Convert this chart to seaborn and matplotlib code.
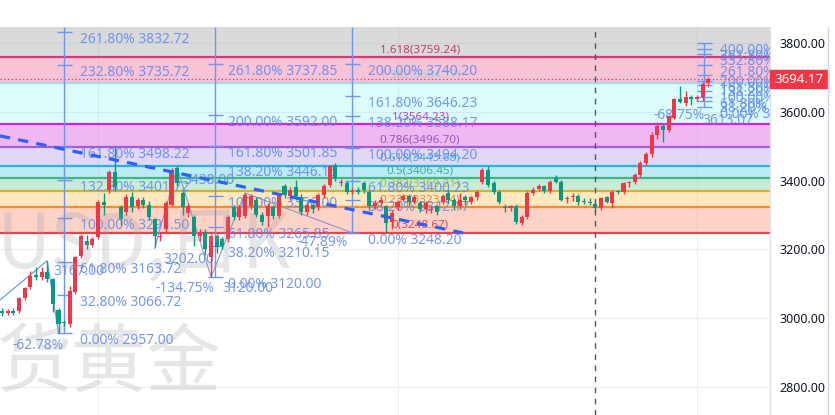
import numpy as np
import pandas as pd
import seaborn as sns
import matplotlib
matplotlib.use("Agg")
import matplotlib.pyplot as plt
from matplotlib.transforms import blended_transform_factory
from matplotlib.patches import Rectangle

sns.set_theme(style="white")
plt.rcParams['font.family'] = ['Noto Sans', 'Noto Sans CJK SC', 'DejaVu Sans']

# ---------------- data ----------------
opens = [3022, 3014, 3020, 3020, 3058, 3090, 3127, 3119, 3133, 3113,
         3023, 2988, 2982, 3075, 3180, 3225, 3214, 3235, 3339, 3374,
         3426, 3322, 3310, 3351, 3325, 3345, 3330, 3287, 3235, 3258,
         3330, 3438, 3365, 3307, 3293, 3238, 3252, 3177, 3238, 3229,
         3229, 3322, 3293, 3296, 3325, 3345, 3301, 3296, 3322, 3296,
         3383, 3354, 3380, 3351, 3310, 3330, 3322, 3359, 3388, 3446,
         3392, 3394, 3367, 3374, 3394, 3368, 3325, 3336, 3325, 3281,
         3322, 3345, 3354, 3339, 3336, 3316, 3314, 3325, 3339, 3365,
         3345, 3325, 3351, 3339, 3351, 3397, 3432, 3394, 3368, 3324,
         3319, 3327, 3278, 3293, 3365, 3377, 3383, 3371, 3409, 3397,
         3346, 3352, 3354, 3340, 3338, 3333, 3319, 3351, 3336, 3370,
         3368, 3393, 3397, 3417, 3452, 3478, 3533, 3559, 3548, 3583,
         3638, 3626, 3643, 3638, 3643, 3684]
highs = [3030, 3028, 3030, 3062, 3092, 3136, 3150, 3150, 3167, 3118,
         3030, 2995, 3093, 3180, 3245, 3243, 3235, 3345, 3365, 3432,
         3501, 3330, 3360, 3368, 3350, 3352, 3340, 3290, 3250, 3340,
         3438, 3441, 3370, 3335, 3300, 3258, 3258, 3245, 3245, 3235,
         3300, 3330, 3330, 3365, 3360, 3352, 3310, 3335, 3330, 3360,
         3390, 3380, 3403, 3360, 3338, 3336, 3365, 3390, 3446, 3452,
         3405, 3400, 3378, 3380, 3400, 3372, 3345, 3352, 3330, 3315,
         3345, 3360, 3360, 3358, 3342, 3342, 3325, 3330, 3360, 3372,
         3350, 3365, 3358, 3356, 3372, 3436, 3441, 3398, 3372, 3332,
         3330, 3332, 3300, 3370, 3380, 3390, 3388, 3402, 3415, 3402,
         3356, 3365, 3360, 3348, 3350, 3336, 3352, 3356, 3372, 3373,
         3396, 3400, 3422, 3456, 3482, 3540, 3570, 3565, 3592, 3641,
         3675, 3660, 3650, 3650, 3686, 3700]
lows = [3005, 3008, 3010, 3015, 3052, 3085, 3110, 3112, 3105, 3017,
        2957, 2978, 2975, 3070, 3175, 3200, 3208, 3229, 3301, 3365,
        3370, 3270, 3300, 3310, 3318, 3320, 3285, 3206, 3225, 3250,
        3325, 3385, 3300, 3295, 3209, 3225, 3185, 3120, 3190, 3200,
        3222, 3285, 3285, 3290, 3318, 3295, 3270, 3264, 3288, 3290,
        3350, 3345, 3345, 3300, 3300, 3305, 3315, 3350, 3380, 3400,
        3385, 3360, 3360, 3360, 3365, 3318, 3318, 3330, 3250, 3258,
        3315, 3340, 3330, 3332, 3308, 3305, 3305, 3300, 3332, 3335,
        3315, 3318, 3330, 3332, 3345, 3390, 3380, 3360, 3332, 3310,
        3312, 3275, 3272, 3288, 3358, 3370, 3365, 3365, 3392, 3340,
        3336, 3340, 3330, 3332, 3328, 3312, 3314, 3336, 3320, 3360,
        3360, 3380, 3390, 3410, 3445, 3470, 3522, 3513, 3540, 3580,
        3625, 3618, 3620, 3632, 3630, 3672]
closes = [3014, 3020, 3015, 3058, 3087, 3122, 3119, 3133, 3113, 3040,
          2982, 2986, 3078, 3177, 3238, 3212, 3229, 3339, 3330, 3426,
          3380, 3287, 3351, 3322, 3345, 3330, 3293, 3238, 3240, 3336,
          3432, 3394, 3322, 3325, 3238, 3249, 3200, 3238, 3206, 3209,
          3293, 3293, 3322, 3359, 3354, 3301, 3281, 3325, 3296, 3354,
          3359, 3374, 3354, 3310, 3330, 3316, 3359, 3383, 3441, 3409,
          3396, 3368, 3370, 3368, 3374, 3325, 3336, 3345, 3278, 3307,
          3339, 3354, 3339, 3351, 3316, 3336, 3318, 3310, 3354, 3345,
          3325, 3345, 3345, 3351, 3368, 3432, 3388, 3368, 3339, 3320,
          3325, 3281, 3293, 3365, 3374, 3383, 3371, 3397, 3397, 3345,
          3349, 3356, 3339, 3338, 3334, 3319, 3348, 3339, 3368, 3366,
          3394, 3396, 3417, 3452, 3478, 3533, 3559, 3548, 3588, 3638,
          3629, 3643, 3638, 3643, 3681, 3694.17]
last_price = 3694.17

# Fibonacci retracement (0 -> 1 : 3248.67 -> 3564.23)
fib_levels = ["0", "0.236", "0.382", "0.5", "0.618", "0.786", "1", "1.382", "1.618"]
fib_values = [3248.67, 3323.14, 3369.21, 3406.45, 3443.68, 3496.70, 3564.23, 3684.77, 3759.24]
fib_line_colors = ["#f0404a", "#ff8a30", "#d4b22c", "#3bb88a", "#1fb6e0",
                   "#a35bd6", "#d524d8", "#a8d8e6", "#d63a7a"]
fib_text_colors = ["#e84a55", "#f08040", "#c8b040", "#40b090", "#4ab0d8",
                   "#9159c0", "#c040d0", "#9ccfd8", "#c0406e"]
fib_band_colors = ["#fdd3c7", "#fde8bf", "#c8ecd9", "#bfe9f3", "#e1d8f5",
                   "#f0b8f2", "#dcfdfb", "#f7c3d7", "#dadada"]

# Fibonacci extension tools (blue)
ext1_pcts = ["0.00%", "32.80%", "61.80%", "100.00%", "132.80%", "161.80%", "232.80%", "261.80%"]
ext1_vals = [2957.00, 3066.72, 3163.72, 3291.50, 3401.72, 3498.22, 3735.72, 3832.72]
ext2_pcts = ["0.00%", "38.20%", "61.80%", "100.00%", "138.20%", "161.80%", "200.00%", "261.80%"]
ext2_vals = [3120.00, 3210.15, 3265.85, 3356.00, 3446.15, 3501.85, 3592.00, 3737.85]
ext3_pcts = ["0.00%", "38.20%", "61.80%", "100.00%", "138.20%", "161.80%", "200.00%"]
ext3_vals = [3248.20, 3342.17, 3400.23, 3494.20, 3588.17, 3646.23, 3740.20]
ext4_pcts = ["0.00%", "38.20%", "61.80%", "100.00%", "138.20%", "161.80%", "200.00%",
             "261.80%", "332.80%", "361.80%", "400.00%"]
ext4_vals = [3613.07, 3630.92, 3641.95, 3659.80, 3677.65, 3688.68, 3706.53,
             3735.41, 3768.59, 3782.14, 3799.99]

# zigzag drawings (candle index, price)
zz1_idx = [-0.35, 8, 10]
zz1_price = [3053, 3167, 2957]
zz2_idx = [27, 31, 37, 43, 62]
zz2_price = [3202, 3438, 3120, 3364, 3248.2]
trend_idx = [-0.35, 81.6]
trend_price = [3530, 3248]

y_ticks = [2800, 3000, 3200, 3400, 3600, 3800]

# ---------------- layout helpers ----------------
W, H = 835, 415
PLOT_R, PLOT_T = 770, 27
STEP, X0 = 5.65, 2.0            # px per candle, px of candle 0
def px2x(px):
    return (px - X0) / STEP
Y_TOP, Y_BOT = 3846.5, 2718.6
PPU = (Y_TOP - Y_BOT) / (H - PLOT_T)   # price per pixel

fig = plt.figure(figsize=(W / 100, H / 100), dpi=100, facecolor="white")
ax = fig.add_axes([0, 0, PLOT_R / W, (H - PLOT_T) / H])
ax.set_facecolor("white")
ax.set_xlim(px2x(0), px2x(PLOT_R))
ax.set_ylim(Y_BOT, Y_TOP)

# bands + lines
band_edges = fib_values + [Y_TOP + 50]
for i, c in enumerate(fib_band_colors):
    ax.axhspan(band_edges[i], band_edges[i + 1], color=c, lw=0, zorder=1)
for v, c in zip(fib_values, fib_line_colors):
    ax.axhline(v, color=c, lw=1.6, zorder=2)

# grid
for t in y_ticks:
    ax.axhline(t, color="#b0b0b0", lw=0.8, alpha=0.2, zorder=1.5)
for gx in [17, 70, 123]:
    ax.axvline(gx, color="#b0b0b0", lw=0.8, alpha=0.2, zorder=1.5)

# watermark
wm = dict(color="#9598a1", alpha=0.24, zorder=1.8, family=["Noto Sans CJK SC"])
fig.text(-3 / W, 1 - 246 / H, "USD,日K", fontsize=54, va="center", ha="left", **wm)
fig.text(-4 / W, 1 - 364 / H, "货黄金", fontsize=54, va="center", ha="left", **wm)

# fib retracement labels
for lvl, v, c in zip(fib_levels, fib_values, fib_text_colors):
    ax.text(px2x(420), v + 7.5 * PPU, f"{lvl}({v:.2f})", color=c, fontsize=8.4,
            ha="center", va="center", zorder=3)

# red dotted last price line
ax.axhline(last_price, color="#f23645", lw=0.9, ls=(0, (1, 2)), zorder=2.5)

# extension tools
BLUE = "#5f86f0"
def ext_tool(vx_px, pcts, vals, top=Y_TOP, lab_dx=16):
    x = px2x(vx_px)
    ax.vlines(x, min(vals), top, color="#6d95f5", lw=1.0, zorder=3)
    ax.hlines(vals, px2x(vx_px - 7), px2x(vx_px + 8), color="#6d95f5", lw=1.0, zorder=3)
    for p, v in zip(pcts, vals):
        ax.text(px2x(vx_px + lab_dx), v - 7.5 * PPU, f"{p} {v:.2f}", color=BLUE,
                alpha=0.85, fontsize=10, ha="left", va="center", zorder=3.5, clip_on=True)

ext_tool(64, ext1_pcts, ext1_vals)
ext_tool(215, ext2_pcts, ext2_vals, lab_dx=13)
ext_tool(352, ext3_pcts, ext3_vals)
ext_tool(704, ext4_pcts, ext4_vals, top=3800, lab_dx=16)

# zigzags
ax.plot(zz1_idx, zz1_price, color="#5f8ff0", lw=0.8, zorder=3)
ax.plot(zz2_idx, zz2_price, color="#8f93d0", lw=0.8, zorder=3)
zz_labels = [("3167.00", 53, 271), ("-62.78%", 12, 345), ("3202.00", 163, 260),
             ("-134.75%", 155, 288), ("3120.00", 222, 288), ("3438.00", 183, 181),
             ("-47.89%", 296, 243), ("-68.75%", 653, 115), ("3613.07", 702, 121)]
for s, lx, ly in zz_labels:
    ax.text(px2x(lx), Y_TOP - (ly - PLOT_T) * PPU, s, color=BLUE, alpha=0.85,
            fontsize=10, ha="left", va="center", zorder=3.5, clip_on=True)

# candles
df = pd.DataFrame(dict(open=opens, high=highs, low=lows, close=closes))
df["idx"] = np.arange(len(df))
up = df["close"] >= df["open"]
cols = np.where(up, "#f23645", "#089981")
ax.vlines(df["idx"], df["low"], df["high"], colors=cols, lw=1.0, zorder=5)
body_lo = np.minimum(df["open"], df["close"])
body_h = np.maximum((df["close"] - df["open"]).abs(), 1.2 * PPU)
ax.bar(df["idx"], body_h, bottom=body_lo, width=0.72, color=cols, lw=0, zorder=5)

# dashed trend line and vertical dashed marker
sns.lineplot(x=trend_idx, y=trend_price, ax=ax, color="#2962ff", lw=2.3,
             linestyle=(0, (3.2, 2.6)), zorder=6)
ax.axvline(105, color="#555555", lw=1.0, ls=(0, (4, 4)), zorder=6)

# axes cosmetics
ax.set_xticks([])
ax.yaxis.tick_right()
ax.set_yticks(y_ticks)
ax.set_yticklabels([f"{t:.2f}" for t in y_ticks])
ax.tick_params(axis="y", length=0, pad=6.5, labelsize=9, labelcolor="#131722")
for s in ["top", "bottom", "left"]:
    ax.spines[s].set_visible(False)
ax.spines["right"].set_color("#e0e3eb")
ax.spines["right"].set_linewidth(1)

# price tag
tr = blended_transform_factory(fig.transFigure, ax.transData)
ax.add_patch(Rectangle((PLOT_R / W, last_price - 9 * PPU), 58 / W, 18 * PPU,
                       transform=tr, color="#f23645", clip_on=False, zorder=10))
ax.text(799 / W, last_price, f"{last_price:.2f}", transform=tr, color="white",
        fontsize=9.5, fontweight="semibold", ha="center", va="center", zorder=11, clip_on=False)

fig.add_artist(plt.Line2D([828 / W, 828 / W], [0, 1 - PLOT_T / H], color="#d1d4dc", lw=1))

fig.savefig("out.png", dpi=100, facecolor="white")
